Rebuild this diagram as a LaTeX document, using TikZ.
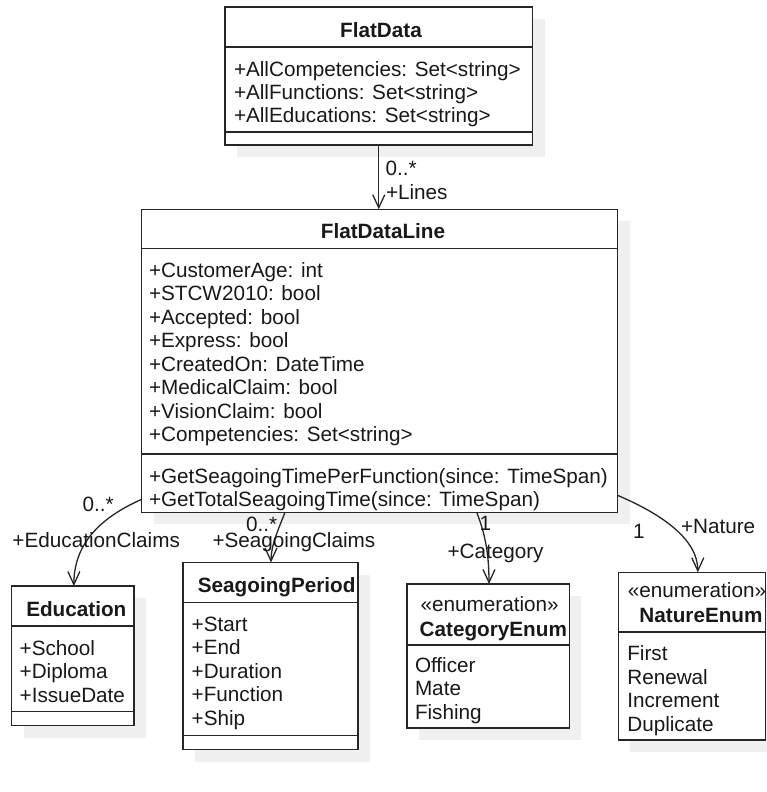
\documentclass[tikz,border=0pt]{standalone}
\usepackage{fontspec}
\setmainfont{Liberation Sans}
\usetikzlibrary{arrows.meta,shadows}

\begin{document}
\begin{tikzpicture}[x=1pt,y=-1pt,
  every node/.style={inner sep=0pt, outer sep=0pt, text=black!90,
    font=\fontsize{20.7}{23.5}\selectfont},
  classbox/.style={rectangle, draw=black!85, line width=1.3pt, fill=white,
    anchor=north west,
    general shadow={fill=black!6, shadow xshift=12pt, shadow yshift=-12pt}},
  sep/.style={draw=black!85, line width=1.3pt},
  member/.style={anchor=base west},
  classname/.style={anchor=base, font=\fontsize{20.7}{23.5}\selectfont\bfseries},
  stereotype/.style={anchor=base},
  role/.style={anchor=base west},
  assoc/.style={draw=black!85, line width=1.3pt,
    -{Straight Barb[length=13pt,width=12pt]}}
]
\useasboundingbox[fill=white] (0,0) rectangle (767,792);

% ---------- class outlines ----------
\node[classbox, minimum width=307.5pt, minimum height=138pt] (fd)  at (225,7) {};
\node[classbox, minimum width=475.8pt, minimum height=303pt] (fdl) at (141.7,209.3) {};
\node[classbox, minimum width=122.3pt, minimum height=139.5pt] (edu) at (11.7,586) {};
\node[classbox, minimum width=175pt,   minimum height=187pt] (sp)  at (183,562.5) {};
\node[classbox, minimum width=162.3pt, minimum height=144pt] (cat) at (407,584) {};
\node[classbox, minimum width=147.2pt, minimum height=167.7pt] (nat) at (618.3,572.3) {};

% ---------- compartment separators ----------
\draw[sep] ([yshift=-40pt]fd.north west) -- ([yshift=-40pt]fd.north east);
\draw[sep] ([yshift=-125pt]fd.north west) -- ([yshift=-125pt]fd.north east);
\draw[sep] ([yshift=-39pt]fdl.north west) -- ([yshift=-39pt]fdl.north east);
\draw[sep] ([yshift=-244.7pt]fdl.north west) -- ([yshift=-244.7pt]fdl.north east);
\draw[sep] ([yshift=-40pt]edu.north west) -- ([yshift=-40pt]edu.north east);
\draw[sep] ([yshift=-125.7pt]edu.north west) -- ([yshift=-125.7pt]edu.north east);
\draw[sep] ([yshift=-40.2pt]sp.north west) -- ([yshift=-40.2pt]sp.north east);
\draw[sep] ([yshift=-172.8pt]sp.north west) -- ([yshift=-172.8pt]sp.north east);
\draw[sep] ([yshift=-61pt]cat.north west) -- ([yshift=-61pt]cat.north east);
\draw[sep] ([yshift=-59.6pt]nat.north west) -- ([yshift=-59.6pt]nat.north east);

% ---------- FlatData ----------
\node[classname] (fdT) at (381,37.5) {FlatData};
\node[member] (fdA1) at (234,76) {+AllCompetencies: Set<string>};
\node[member] (fdA2) at (234,99) {+AllFunctions: Set<string>};
\node[member] (fdA3) at (234,122) {+AllEducations: Set<string>};

% ---------- FlatDataLine ----------
\node[classname] (fdlT) at (383,238.8) {FlatDataLine};
\node[member] (fdlA1) at (149,277.3) {+CustomerAge: int};
\node[member] (fdlA2) at (149,300.8) {+STCW2010: bool};
\node[member] (fdlA3) at (149,324.3) {+Accepted: bool};
\node[member] (fdlA4) at (149,347.8) {+Express: bool};
\node[member] (fdlA5) at (149,371.3) {+CreatedOn: DateTime};
\node[member] (fdlA6) at (149,394.8) {+MedicalClaim: bool};
\node[member] (fdlA7) at (149,418.3) {+VisionClaim: bool};
\node[member] (fdlA8) at (149,441.8) {+Competencies: Set<string>};
\node[member] (fdlO1) at (149,483) {+GetSeagoingTimePerFunction(since: TimeSpan)};
\node[member] (fdlO2) at (149,506.3) {+GetTotalSeagoingTime(since: TimeSpan)};

% ---------- Education ----------
\node[classname] (eduT) at (76.3,616.2) {Education};
\node[member] (eduA1) at (19.7,655) {+School};
\node[member] (eduA2) at (19.7,678.5) {+Diploma};
\node[member] (eduA3) at (19.7,702) {+IssueDate};

% ---------- SeagoingPeriod ----------
\node[classname] (spT) at (276.7,592.5) {SeagoingPeriod};
\node[member] (spA1) at (191.7,631) {+Start};
\node[member] (spA2) at (191.7,654.5) {+End};
\node[member] (spA3) at (191.7,678) {+Duration};
\node[member] (spA4) at (191.7,701.5) {+Function};
\node[member] (spA5) at (191.7,725) {+Ship};

% ---------- CategoryEnum ----------
\node[stereotype] (catS) at (489.7,611.7) {«enumeration»};
\node[classname] (catT) at (493.3,636) {CategoryEnum};
\node[member] (catL1) at (415,672) {Officer};
\node[member] (catL2) at (415,695.5) {Mate};
\node[member] (catL3) at (415,719) {Fishing};

% ---------- NatureEnum ----------
\node[stereotype] (natS) at (697,597.3) {«enumeration»};
\node[classname] (natT) at (701,622.7) {NatureEnum};
\node[member] (natL1) at (627.3,660) {First};
\node[member] (natL2) at (627.3,684) {Renewal};
\node[member] (natL3) at (627.3,707.7) {Increment};
\node[member] (natL4) at (627.3,731.5) {Duplicate};

% ---------- associations ----------
\draw[assoc] (fd.south) -- (fd.south |- fdl.north);
\draw[assoc] ([yshift=13pt]fdl.south west)
  .. controls +(-36,16) and +(0,-46) .. ([xshift=1pt]edu.north);
\draw[assoc] ([xshift=143.3pt]fdl.south west)
  .. controls +(-7,18) and +(0,-17) .. ([xshift=88pt]sp.north west);
\draw[assoc] ([xshift=335pt]fdl.south west)
  .. controls +(7,18) and +(0,-34) .. ([xshift=82pt]cat.north west);
\draw[assoc] ([yshift=17pt]fdl.south east)
  .. controls +(47,20) and +(0,-32) .. ([xshift=79.5pt]nat.north west);

% ---------- multiplicities and role names ----------
\node[role] (mLines) at (385.5,175) {0..*};
\node[role] (rLines) at (386,199.3) {+Lines};
\node[role] (mEdu) at (82.5,511.5) {0..*};
\node[role] (rEdu) at (12.5,547.7) {+EducationClaims};
\node[role] (mSp) at (246,531.7) {0..*};
\node[role] (rSp) at (212.5,547.7) {+SeagoingClaims};
\node[role] (mCat) at (479.5,530) {1};
\node[role] (rCat) at (447.5,558.3) {+Category};
\node[role] (mNat) at (633,538.3) {1};
\node[role] (rNat) at (681,533.3) {+Nature};
\end{tikzpicture}
\end{document}
